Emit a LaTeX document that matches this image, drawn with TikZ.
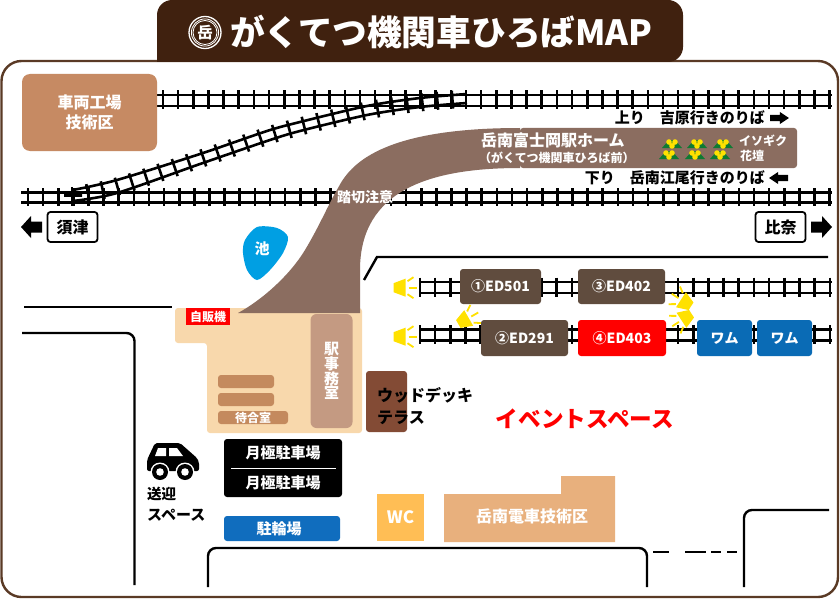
\documentclass[tikz,border=0pt]{standalone}
\usepackage{fontspec}
\setmainfont{Noto Sans CJK JP}
\usetikzlibrary{decorations.pathreplacing}
\definecolor{framebrown}{HTML}{40210F}
\definecolor{linebrown}{HTML}{5A3A25}
\definecolor{walkbrown}{HTML}{8B6D60}
\definecolor{depotbrown}{HTML}{C68A63}
\definecolor{locobrown}{HTML}{604C3E}
\definecolor{hallbeige}{HTML}{F8D8AC}
\definecolor{officetan}{HTML}{C49A82}
\definecolor{benchtan}{HTML}{C48A5E}
\definecolor{deckbrown}{HTML}{834B35}
\definecolor{shoptan}{HTML}{E8B07D}
\definecolor{wcorange}{HTML}{FFBE55}
\definecolor{pondblue}{HTML}{009FE3}
\definecolor{wagonblue}{HTML}{0A6BB5}
\definecolor{cycleblue}{HTML}{106DBE}
\definecolor{lampyellow}{HTML}{FFE100}
\definecolor{bedgreen}{HTML}{0E7A32}
\tikzset{
rail/.style={line width=2.6pt,black},
tie/.style={line width=2.6pt,black},
road/.style={line width=2.4pt,black,rounded corners=8pt},
block/.style={rectangle,fill=#1,rounded corners=3pt,inner sep=0pt,text=white,font=\bfseries\fontsize{14}{15}\selectfont},
label/.style={inner sep=0pt,font=\bfseries\fontsize{#1}{#1}\selectfont},
label/.default=15,
lampicon/.pic={
\fill[lampyellow] (-6,-4.5) -- (6,-9) -- (6,9) -- (-6,4.5) -- cycle;
\draw[lampyellow,line width=1.8pt] (8,-6.5) -- (14,-10.5);
\draw[lampyellow,line width=1.8pt] (9,0) -- (17,0);
\draw[lampyellow,line width=1.8pt] (8,6.5) -- (14,10.5);
},
bedplant/.pic={
\fill[bedgreen] (-10,4) -- (-3,-4) -- (3,-4) -- (10,4) -- cycle;
\fill[lampyellow] (-3,-2) circle (2.8) (3,-2) circle (2.8) (0,2) circle (2.8);
},
blockarrow/.pic={
\fill[black] (-10,-5.5) -- (1,-5.5) -- (1,-11) -- (11,0) -- (1,11) -- (1,5.5) -- (-10,5.5) -- cycle;
},
}
% rails and ties: first x, last x, upper rail y, lower rail y, first tie x, tie step, last tie number
\newcommand{\trackline}[7]{
\draw[rail] (#1,#3) -- (#2,#3);
\draw[rail] (#1,#4) -- (#2,#4);
\foreach \n in {0,...,#7}
\draw[tie] ({#5+\n*#6},#3-4.5) -- ({#5+\n*#6},#4+3.5);
}
\begin{document}
\begin{tikzpicture}[x=1pt,y=-1pt]
\useasboundingbox (0,0) rectangle (840,599);
\fill[white] (0,0) rectangle (840,599);

\draw[linebrown,line width=2.4pt,rounded corners=20pt] (1.5,61) rectangle (838,597);
\fill[framebrown,rounded corners=15pt] (157,62) -- (157,0) -- (683,0) -- (683,62) [sharp corners] -- cycle;

% logo
\begin{scope}[shift={(205,32.5)}]
\draw[white,line width=1.3pt] (0,0) circle (16);
\draw[white,line width=0.8pt] (0,0) circle (13.6);
\draw[white,line width=0.8pt] (0,0) circle (12);
\node[label=15.5,text=white] (logo) at (0,0) {岳};
\end{scope}
\node[label=34.7,text=white,anchor=west] (title) at (230,32) {がくてつ機関車ひろばMAP};

% main tracks
\trackline{157}{832}{95}{106}{163}{15.15}{44}
\trackline{21}{832}{192.5}{202.5}{28}{15.125}{53}
\draw[rail] plot[smooth] coordinates {(73,190) (117,180) (200,154) (267,131) (300,122) (367,106) (420,98) (467,94)};
\draw[rail] plot[smooth] coordinates {(73,201) (117,193) (200,164) (267,141) (300,131) (367,115) (420,107) (467,103)};
\draw[tie,decorate,decoration={ticks,segment length=15.1pt,amplitude=9pt}] plot[smooth] coordinates {(73,195.5) (117,186.5) (200,159) (267,136) (300,126.5) (367,110.5) (420,102.5) (467,98.5)};
\draw[line width=2.6pt] (72,187) -- (72,206);

% walkway and platform
\fill[walkbrown,rounded corners=3pt] (520,128) -- (797,128) -- (797,168) -- (520,168) -- cycle;
\fill[hallbeige,rounded corners=3pt] (175,308) -- (362,308) -- (362,433) -- (207,433) -- (207,343) -- (175,343) -- cycle;
\fill[walkbrown] (238,313) .. controls (262,300) and (290,275) .. (305,250)
.. controls (320,225) and (328,205) .. (338,188)
.. controls (350,165) and (380,128) .. (520,128) -- (520,168)
.. controls (430,168) and (360,190) .. (360,270) -- (360,313) -- cycle;

\node[label=16,text=white,anchor=west] (platform) at (481,140) {岳南富士岡駅ホーム};
\node[label=12,text=white,anchor=west] (platformsub) at (479,157.5) {（がくてつ機関車ひろば前）};
\foreach \x in {672,697,723} \pic at (\x,144) {bedplant};
\foreach \x in {669,695,720} \pic at (\x,155) {bedplant};
\node[label=12,text=white,anchor=west] (bedname) at (739,141) {イソギク};
\node[label=12,text=white,anchor=west] (bedname2) at (740,155.5) {花壇};
\node[label=14,text=white] (crossing) at (365,197) {踏切注意};

\node[label,anchor=east] (upline) at (765,118) {吉原行きのりば};
\node[label,anchor=east] (uplabel) at (645,118) {上り};
\node[label,anchor=east] (downline) at (765,178) {岳南江尾行きのりば};
\node[label,anchor=east] (downlabel) at (615,178) {下り};
\pic[xscale=.9,yscale=.55] at (779,118) {blockarrow};
\pic[xscale=-.9,yscale=.55] at (779,178) {blockarrow};

% depot and signs
\node[block=depotbrown,rounded corners=8pt,minimum width=135pt,minimum height=77pt,align=center,font=\bfseries\fontsize{16}{20}\selectfont] (depot) at (89.5,112.5) {車両工場\\技術区};
\node[draw=black,line width=1.8pt,fill=white,rounded corners=3pt,minimum width=50pt,minimum height=30pt,inner sep=0pt,label=16] (suzukawa) at (72.5,227) {須津};
\node[draw=black,line width=1.8pt,fill=white,rounded corners=3pt,minimum width=50pt,minimum height=30pt,inner sep=0pt,label=16] (hina) at (780.5,227) {比奈};
\pic[xscale=-1] at (32,227) {blockarrow};
\pic at (821,227) {blockarrow};

\fill[pondblue] plot[smooth cycle] coordinates {(245,240) (257,227) (277,228) (288,237) (283,253) (270,270) (257,280) (247,270) (243,253)};
\node[label=15,text=white] (pond) at (262,249) {池};

% event tracks
\draw[road,rounded corners=0pt] (364,280) -- (377,257) -- (828,257);
\trackline{419}{832}{282}{293}{420}{15.18}{27}
\trackline{419}{832}{329.5}{340.5}{420}{15.18}{27}
\node[block=locobrown,minimum width=81pt,minimum height=35pt] (ed501) at (500.5,286.5) {①ED501};
\node[block=locobrown,minimum width=87pt,minimum height=35pt] (ed402) at (621.5,286.5) {③ED402};
\node[block=locobrown,minimum width=87pt,minimum height=36pt] (ed291) at (524.5,338) {②ED291};
\node[block=red,minimum width=88pt,minimum height=36pt] (ed403) at (622,338) {④ED403};
\node[block=wagonblue,minimum width=55pt,minimum height=36pt] (wagon1) at (724.5,338) {ワム};
\node[block=wagonblue,minimum width=55pt,minimum height=36pt] (wagon2) at (784.5,338) {ワム};
\pic at (399.5,287.7) {lampicon};
\pic at (399.5,336.7) {lampicon};
\pic[rotate=30] at (463.5,321) {lampicon};
\pic[rotate=147] at (686,303) {lampicon};
\pic[rotate=-147] at (686.5,317) {lampicon};

% station
\node[block=red,rounded corners=0pt,minimum width=44pt,minimum height=17pt,font=\bfseries\fontsize{12}{12}\selectfont] (vending) at (208,316.5) {自販機};
\node[block=officetan,rounded corners=6pt,minimum width=42pt,minimum height=114pt,align=center,font=\bfseries\fontsize{15}{14.7}\selectfont] (office) at (331.5,371) {駅\\事\\務\\室};
\node[block=benchtan,minimum width=56pt,minimum height=13pt] (bench1) at (246,381.5) {};
\node[block=benchtan,minimum width=56pt,minimum height=13pt] (bench2) at (246,399.5) {};
\node[block=benchtan,minimum width=70pt,minimum height=13pt,font=\bfseries\fontsize{12}{12}\selectfont] (waiting) at (253,417.5) {待合室};
\node[block=deckbrown,minimum width=41pt,minimum height=61pt] (deck) at (386.5,401.5) {};
\node[label=16,anchor=west] (decktext) at (377,395) {ウッドデッキ};
\node[label=16,anchor=west] (decktext2) at (377,418) {テラス};
\node[label=22.6,text=red] (event) at (585,419) {イベントスペース};

% car
\fill[black,rounded corners=2pt] (147,471) -- (147,460) -- (155,443) -- (180,443) -- (197,458) -- (199,462) -- (199,471) -- cycle;
\fill[white] (158,448) -- (166,448) -- (166,456) -- (155,456) -- cycle;
\fill[white] (169,448) -- (177,448) -- (183,456) -- (169,456) -- cycle;
\fill[white] (160,472) circle (9.5) (185,472) circle (9.5);
\fill[black] (160,472) circle (8) (185,472) circle (8);
\fill[white] (160,472) circle (3.8) (185,472) circle (3.8);
\node[label=14.5,anchor=west] (pickup) at (147,494) {送迎};
\node[label=15,anchor=west] (pickup2) at (147,515) {スペース};

% parking and buildings
\node[block=black,minimum width=118pt,minimum height=58pt] (parking) at (283,468) {};
\draw[white,line width=1pt] (231,468) -- (336,468);
\node[label=15,text=white] (park1) at (283,453) {月極駐車場};
\node[label=15,text=white] (park2) at (283,483) {月極駐車場};
\node[block=cycleblue,minimum width=116pt,minimum height=25pt] (cycle) at (282,528.5) {};
\node[label=15,text=white] (cycletext) at (279,529) {駐輪場};
\node[block=wcorange,rounded corners=0pt,minimum width=47pt,minimum height=47pt,font=\bfseries\fontsize{17}{17}\selectfont] (wc) at (400.5,517.5) {WC};
\fill[shoptan] (444,494) -- (561,494) -- (561,476) -- (615,476) -- (615,542) -- (444,542) -- cycle;
\node[label=16,text=white] (shop) at (532,516) {岳南電車技術区};

% roads
\draw[road,rounded corners=0pt] (24,307) -- (172,307);
\draw[road] (22,333) -- (134.5,333) -- (134.5,585);
\draw[road] (208,587) -- (208,548) -- (647,548) -- (647,587);
\draw[road] (744,587) -- (744,510) -- (829,510);
\draw[road,rounded corners=0pt] (653,552) -- (669,552);
\draw[road,rounded corners=0pt] (685,552) -- (706,552);
\draw[road,rounded corners=0pt] (711,552) -- (721,552);
\draw[road,rounded corners=0pt] (727,552) -- (737,552);
\end{tikzpicture}
\end{document}
